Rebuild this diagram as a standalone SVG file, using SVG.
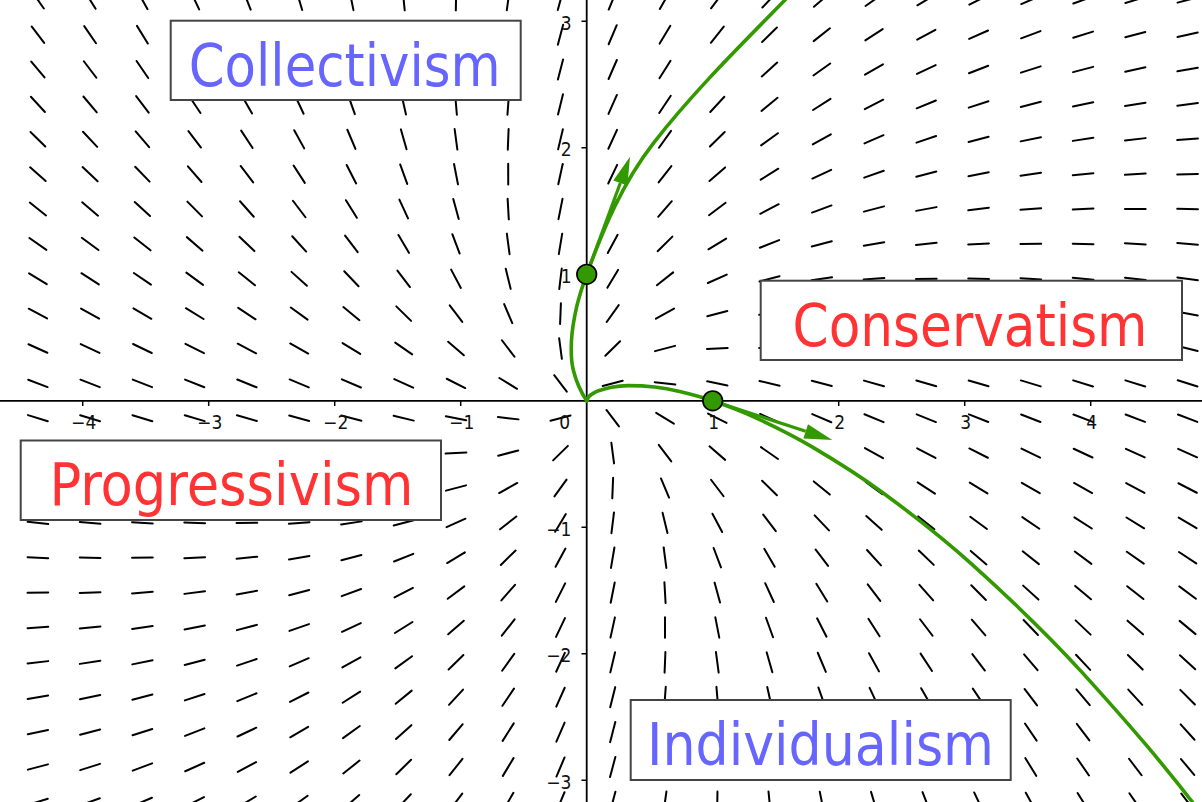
<svg xmlns="http://www.w3.org/2000/svg" width="1202" height="802" viewBox="0 0 1202 802">
<style>
.sf path{fill:none;stroke:none;marker-end:url(#seg)}
.ax{stroke:#000;stroke-width:1.8;fill:none}
.tk{stroke:#000;stroke-width:1.5}
.tl{font-family:"DejaVu Sans Condensed","DejaVu Sans",sans-serif;font-size:19px;fill:#111}
.tx{text-anchor:middle}
.ty{text-anchor:end}
.box rect{fill:#fff;stroke:#444;stroke-width:2}
.big{font-family:"DejaVu Sans Condensed","DejaVu Sans",sans-serif;font-size:58px;text-anchor:middle}
.blue{fill:#6666ff}
.red{fill:#ff3333}
.curve{fill:none;stroke:#339900;stroke-width:3.6;stroke-linecap:round;stroke-linejoin:round}
.shaft{stroke:#339900;stroke-width:3.2}
.head{fill:#339900}
.dot{fill:#339900;stroke:#000;stroke-width:1.7}
</style>
<defs>
<marker id="seg" markerUnits="userSpaceOnUse" orient="auto" overflow="visible" markerWidth="30" markerHeight="30" refX="0" refY="0">
<line x1="-9.8" y1="-3.37" x2="9.8" y2="3.37" stroke="#000" stroke-width="2" stroke-linecap="round"/>
</marker>
</defs>
<rect width="1202" height="802" fill="#fff"/>
<g id="slope-field" class="sf">
<path d="M586.7 400.8L37.9 0"/><path d="M586.7 400.8L90.1 0"/><path d="M586.7 400.8L142.4 0"/><path d="M586.7 400.8L194.7 0"/><path d="M586.7 400.8L246.9 0"/><path d="M586.7 400.8L299.2 0"/><path d="M586.7 400.8L351.4 0"/><path d="M586.7 400.8L403.7 0"/><path d="M586.7 400.8L456 0"/><path d="M586.7 400.8L508.2 0"/><path d="M586.7 400.8L560.5 0"/><path d="M586.7 400.8L612.7 0"/><path d="M586.7 400.8L665 0"/><path d="M586.7 400.8L717.3 0"/><path d="M586.7 400.8L769.5 0"/><path d="M586.7 400.8L821.8 0"/><path d="M586.7 400.8L874 0"/><path d="M586.7 400.8L926.3 0"/><path d="M586.7 400.8L978.6 0"/><path d="M586.7 400.8L1030.8 0"/><path d="M586.7 400.8L1083.1 0"/><path d="M586.7 400.8L1135.3 0"/><path d="M586.7 400.8L1187.6 0"/>
<path d="M586.7 400.8L37.9 34.7"/><path d="M586.7 400.8L90.1 34.7"/><path d="M586.7 400.8L142.4 34.7"/><path d="M586.7 400.8L194.7 34.7"/><path d="M586.7 400.8L246.9 34.7"/><path d="M586.7 400.8L299.2 34.7"/><path d="M586.7 400.8L351.4 34.7"/><path d="M586.7 400.8L403.7 34.7"/><path d="M586.7 400.8L456 34.7"/><path d="M586.7 400.8L508.2 34.7"/><path d="M586.7 400.8L560.5 34.7"/><path d="M586.7 400.8L612.7 34.7"/><path d="M586.7 400.8L665 34.7"/><path d="M586.7 400.8L717.3 34.7"/><path d="M586.7 400.8L769.5 34.7"/><path d="M586.7 400.8L821.8 34.7"/><path d="M586.7 400.8L874 34.7"/><path d="M586.7 400.8L926.3 34.7"/><path d="M586.7 400.8L978.6 34.7"/><path d="M586.7 400.8L1030.8 34.7"/><path d="M586.7 400.8L1083.1 34.7"/><path d="M586.7 400.8L1135.3 34.7"/><path d="M586.7 400.8L1187.6 34.7"/>
<path d="M586.7 400.8L37.9 69.5"/><path d="M586.7 400.8L90.1 69.5"/><path d="M586.7 400.8L142.4 69.5"/><path d="M586.7 400.8L194.7 69.5"/><path d="M586.7 400.8L246.9 69.5"/><path d="M586.7 400.8L299.2 69.5"/><path d="M586.7 400.8L351.4 69.5"/><path d="M586.7 400.8L403.7 69.5"/><path d="M586.7 400.8L456 69.5"/><path d="M586.7 400.8L508.2 69.5"/><path d="M586.7 400.8L560.5 69.5"/><path d="M586.7 400.8L612.7 69.5"/><path d="M586.7 400.8L665 69.5"/><path d="M586.7 400.8L717.3 69.5"/><path d="M586.7 400.8L769.5 69.5"/><path d="M586.7 400.8L821.8 69.5"/><path d="M586.7 400.8L874 69.5"/><path d="M586.7 400.8L926.3 69.5"/><path d="M586.7 400.8L978.6 69.5"/><path d="M586.7 400.8L1030.8 69.5"/><path d="M586.7 400.8L1083.1 69.5"/><path d="M586.7 400.8L1135.3 69.5"/><path d="M586.7 400.8L1187.6 69.5"/>
<path d="M586.7 400.8L37.9 104.4"/><path d="M586.7 400.8L90.1 104.4"/><path d="M586.7 400.8L142.4 104.4"/><path d="M586.7 400.8L194.7 104.4"/><path d="M586.7 400.8L246.9 104.4"/><path d="M586.7 400.8L299.2 104.4"/><path d="M586.7 400.8L351.4 104.4"/><path d="M586.7 400.8L403.7 104.4"/><path d="M586.7 400.8L456 104.4"/><path d="M586.7 400.8L508.2 104.4"/><path d="M586.7 400.8L560.5 104.4"/><path d="M586.7 400.8L612.7 104.4"/><path d="M586.7 400.8L665 104.4"/><path d="M586.7 400.8L717.3 104.4"/><path d="M586.7 400.8L769.5 104.4"/><path d="M586.7 400.8L821.8 104.4"/><path d="M586.7 400.8L874 104.4"/><path d="M586.7 400.8L926.3 104.4"/><path d="M586.7 400.8L978.6 104.4"/><path d="M586.7 400.8L1030.8 104.4"/><path d="M586.7 400.8L1083.1 104.4"/><path d="M586.7 400.8L1135.3 104.4"/><path d="M586.7 400.8L1187.6 104.4"/>
<path d="M586.7 400.8L37.9 139.3"/><path d="M586.7 400.8L90.1 139.3"/><path d="M586.7 400.8L142.4 139.3"/><path d="M586.7 400.8L194.7 139.3"/><path d="M586.7 400.8L246.9 139.3"/><path d="M586.7 400.8L299.2 139.3"/><path d="M586.7 400.8L351.4 139.3"/><path d="M586.7 400.8L403.7 139.3"/><path d="M586.7 400.8L456 139.3"/><path d="M586.7 400.8L508.2 139.3"/><path d="M586.7 400.8L560.5 139.3"/><path d="M586.7 400.8L612.7 139.3"/><path d="M586.7 400.8L665 139.3"/><path d="M586.7 400.8L717.3 139.3"/><path d="M586.7 400.8L769.5 139.3"/><path d="M586.7 400.8L821.8 139.3"/><path d="M586.7 400.8L874 139.3"/><path d="M586.7 400.8L926.3 139.3"/><path d="M586.7 400.8L978.6 139.3"/><path d="M586.7 400.8L1030.8 139.3"/><path d="M586.7 400.8L1083.1 139.3"/><path d="M586.7 400.8L1135.3 139.3"/><path d="M586.7 400.8L1187.6 139.3"/>
<path d="M586.7 400.8L37.9 174.2"/><path d="M586.7 400.8L90.1 174.2"/><path d="M586.7 400.8L142.4 174.2"/><path d="M586.7 400.8L194.7 174.2"/><path d="M586.7 400.8L246.9 174.2"/><path d="M586.7 400.8L299.2 174.2"/><path d="M586.7 400.8L351.4 174.2"/><path d="M586.7 400.8L403.7 174.2"/><path d="M586.7 400.8L456 174.2"/><path d="M586.7 400.8L508.2 174.2"/><path d="M586.7 400.8L560.5 174.2"/><path d="M586.7 400.8L612.7 174.2"/><path d="M586.7 400.8L665 174.2"/><path d="M586.7 400.8L717.3 174.2"/><path d="M586.7 400.8L769.5 174.2"/><path d="M586.7 400.8L821.8 174.2"/><path d="M586.7 400.8L874 174.2"/><path d="M586.7 400.8L926.3 174.2"/><path d="M586.7 400.8L978.6 174.2"/><path d="M586.7 400.8L1030.8 174.2"/><path d="M586.7 400.8L1083.1 174.2"/><path d="M586.7 400.8L1135.3 174.2"/><path d="M586.7 400.8L1187.6 174.2"/>
<path d="M586.7 400.8L37.9 209"/><path d="M586.7 400.8L90.1 209"/><path d="M586.7 400.8L142.4 209"/><path d="M586.7 400.8L194.7 209"/><path d="M586.7 400.8L246.9 209"/><path d="M586.7 400.8L299.2 209"/><path d="M586.7 400.8L351.4 209"/><path d="M586.7 400.8L403.7 209"/><path d="M586.7 400.8L456 209"/><path d="M586.7 400.8L508.2 209"/><path d="M586.7 400.8L560.5 209"/><path d="M586.7 400.8L612.7 209"/><path d="M586.7 400.8L665 209"/><path d="M586.7 400.8L717.3 209"/><path d="M586.7 400.8L769.5 209"/><path d="M586.7 400.8L821.8 209"/><path d="M586.7 400.8L874 209"/><path d="M586.7 400.8L926.3 209"/><path d="M586.7 400.8L978.6 209"/><path d="M586.7 400.8L1030.8 209"/><path d="M586.7 400.8L1083.1 209"/><path d="M586.7 400.8L1135.3 209"/><path d="M586.7 400.8L1187.6 209"/>
<path d="M586.7 400.8L37.9 243.9"/><path d="M586.7 400.8L90.1 243.9"/><path d="M586.7 400.8L142.4 243.9"/><path d="M586.7 400.8L194.7 243.9"/><path d="M586.7 400.8L246.9 243.9"/><path d="M586.7 400.8L299.2 243.9"/><path d="M586.7 400.8L351.4 243.9"/><path d="M586.7 400.8L403.7 243.9"/><path d="M586.7 400.8L456 243.9"/><path d="M586.7 400.8L508.2 243.9"/><path d="M586.7 400.8L560.5 243.9"/><path d="M586.7 400.8L612.7 243.9"/><path d="M586.7 400.8L665 243.9"/><path d="M586.7 400.8L717.3 243.9"/><path d="M586.7 400.8L769.5 243.9"/><path d="M586.7 400.8L821.8 243.9"/><path d="M586.7 400.8L874 243.9"/><path d="M586.7 400.8L926.3 243.9"/><path d="M586.7 400.8L978.6 243.9"/><path d="M586.7 400.8L1030.8 243.9"/><path d="M586.7 400.8L1083.1 243.9"/><path d="M586.7 400.8L1135.3 243.9"/><path d="M586.7 400.8L1187.6 243.9"/>
<path d="M586.7 400.8L37.9 278.8"/><path d="M586.7 400.8L90.1 278.8"/><path d="M586.7 400.8L142.4 278.8"/><path d="M586.7 400.8L194.7 278.8"/><path d="M586.7 400.8L246.9 278.8"/><path d="M586.7 400.8L299.2 278.8"/><path d="M586.7 400.8L351.4 278.8"/><path d="M586.7 400.8L403.7 278.8"/><path d="M586.7 400.8L456 278.8"/><path d="M586.7 400.8L508.2 278.8"/><path d="M586.7 400.8L560.5 278.8"/><path d="M586.7 400.8L612.7 278.8"/><path d="M586.7 400.8L665 278.8"/><path d="M586.7 400.8L717.3 278.8"/><path d="M586.7 400.8L769.5 278.8"/><path d="M586.7 400.8L821.8 278.8"/><path d="M586.7 400.8L874 278.8"/><path d="M586.7 400.8L926.3 278.8"/><path d="M586.7 400.8L978.6 278.8"/><path d="M586.7 400.8L1030.8 278.8"/><path d="M586.7 400.8L1083.1 278.8"/><path d="M586.7 400.8L1135.3 278.8"/><path d="M586.7 400.8L1187.6 278.8"/>
<path d="M586.7 400.8L37.9 313.6"/><path d="M586.7 400.8L90.1 313.6"/><path d="M586.7 400.8L142.4 313.6"/><path d="M586.7 400.8L194.7 313.6"/><path d="M586.7 400.8L246.9 313.6"/><path d="M586.7 400.8L299.2 313.6"/><path d="M586.7 400.8L351.4 313.6"/><path d="M586.7 400.8L403.7 313.6"/><path d="M586.7 400.8L456 313.6"/><path d="M586.7 400.8L508.2 313.6"/><path d="M586.7 400.8L560.5 313.6"/><path d="M586.7 400.8L612.7 313.6"/><path d="M586.7 400.8L665 313.6"/><path d="M586.7 400.8L717.3 313.6"/><path d="M586.7 400.8L769.5 313.6"/><path d="M586.7 400.8L821.8 313.6"/><path d="M586.7 400.8L874 313.6"/><path d="M586.7 400.8L926.3 313.6"/><path d="M586.7 400.8L978.6 313.6"/><path d="M586.7 400.8L1030.8 313.6"/><path d="M586.7 400.8L1083.1 313.6"/><path d="M586.7 400.8L1135.3 313.6"/><path d="M586.7 400.8L1187.6 313.6"/>
<path d="M586.7 400.8L37.9 348.5"/><path d="M586.7 400.8L90.1 348.5"/><path d="M586.7 400.8L142.4 348.5"/><path d="M586.7 400.8L194.7 348.5"/><path d="M586.7 400.8L246.9 348.5"/><path d="M586.7 400.8L299.2 348.5"/><path d="M586.7 400.8L351.4 348.5"/><path d="M586.7 400.8L403.7 348.5"/><path d="M586.7 400.8L456 348.5"/><path d="M586.7 400.8L508.2 348.5"/><path d="M586.7 400.8L560.5 348.5"/><path d="M586.7 400.8L612.7 348.5"/><path d="M586.7 400.8L665 348.5"/><path d="M586.7 400.8L717.3 348.5"/><path d="M586.7 400.8L769.5 348.5"/><path d="M586.7 400.8L821.8 348.5"/><path d="M586.7 400.8L874 348.5"/><path d="M586.7 400.8L926.3 348.5"/><path d="M586.7 400.8L978.6 348.5"/><path d="M586.7 400.8L1030.8 348.5"/><path d="M586.7 400.8L1083.1 348.5"/><path d="M586.7 400.8L1135.3 348.5"/><path d="M586.7 400.8L1187.6 348.5"/>
<path d="M586.7 400.8L37.9 383.4"/><path d="M586.7 400.8L90.1 383.4"/><path d="M586.7 400.8L142.4 383.4"/><path d="M586.7 400.8L194.7 383.4"/><path d="M586.7 400.8L246.9 383.4"/><path d="M586.7 400.8L299.2 383.4"/><path d="M586.7 400.8L351.4 383.4"/><path d="M586.7 400.8L403.7 383.4"/><path d="M586.7 400.8L456 383.4"/><path d="M586.7 400.8L508.2 383.4"/><path d="M586.7 400.8L560.5 383.4"/><path d="M586.7 400.8L612.7 383.4"/><path d="M586.7 400.8L665 383.4"/><path d="M586.7 400.8L717.3 383.4"/><path d="M586.7 400.8L769.5 383.4"/><path d="M586.7 400.8L821.8 383.4"/><path d="M586.7 400.8L874 383.4"/><path d="M586.7 400.8L926.3 383.4"/><path d="M586.7 400.8L978.6 383.4"/><path d="M586.7 400.8L1030.8 383.4"/><path d="M586.7 400.8L1083.1 383.4"/><path d="M586.7 400.8L1135.3 383.4"/><path d="M586.7 400.8L1187.6 383.4"/>
<path d="M586.7 400.8L37.9 418.2"/><path d="M586.7 400.8L90.1 418.2"/><path d="M586.7 400.8L142.4 418.2"/><path d="M586.7 400.8L194.7 418.2"/><path d="M586.7 400.8L246.9 418.2"/><path d="M586.7 400.8L299.2 418.2"/><path d="M586.7 400.8L351.4 418.2"/><path d="M586.7 400.8L403.7 418.2"/><path d="M586.7 400.8L456 418.2"/><path d="M586.7 400.8L508.2 418.2"/><path d="M586.7 400.8L560.5 418.2"/><path d="M586.7 400.8L612.7 418.2"/><path d="M586.7 400.8L665 418.2"/><path d="M586.7 400.8L717.3 418.2"/><path d="M586.7 400.8L769.5 418.2"/><path d="M586.7 400.8L821.8 418.2"/><path d="M586.7 400.8L874 418.2"/><path d="M586.7 400.8L926.3 418.2"/><path d="M586.7 400.8L978.6 418.2"/><path d="M586.7 400.8L1030.8 418.2"/><path d="M586.7 400.8L1083.1 418.2"/><path d="M586.7 400.8L1135.3 418.2"/><path d="M586.7 400.8L1187.6 418.2"/>
<path d="M586.7 400.8L37.9 453.1"/><path d="M586.7 400.8L90.1 453.1"/><path d="M586.7 400.8L142.4 453.1"/><path d="M586.7 400.8L194.7 453.1"/><path d="M586.7 400.8L246.9 453.1"/><path d="M586.7 400.8L299.2 453.1"/><path d="M586.7 400.8L351.4 453.1"/><path d="M586.7 400.8L403.7 453.1"/><path d="M586.7 400.8L456 453.1"/><path d="M586.7 400.8L508.2 453.1"/><path d="M586.7 400.8L560.5 453.1"/><path d="M586.7 400.8L612.7 453.1"/><path d="M586.7 400.8L665 453.1"/><path d="M586.7 400.8L717.3 453.1"/><path d="M586.7 400.8L769.5 453.1"/><path d="M586.7 400.8L821.8 453.1"/><path d="M586.7 400.8L874 453.1"/><path d="M586.7 400.8L926.3 453.1"/><path d="M586.7 400.8L978.6 453.1"/><path d="M586.7 400.8L1030.8 453.1"/><path d="M586.7 400.8L1083.1 453.1"/><path d="M586.7 400.8L1135.3 453.1"/><path d="M586.7 400.8L1187.6 453.1"/>
<path d="M586.7 400.8L37.9 488"/><path d="M586.7 400.8L90.1 488"/><path d="M586.7 400.8L142.4 488"/><path d="M586.7 400.8L194.7 488"/><path d="M586.7 400.8L246.9 488"/><path d="M586.7 400.8L299.2 488"/><path d="M586.7 400.8L351.4 488"/><path d="M586.7 400.8L403.7 488"/><path d="M586.7 400.8L456 488"/><path d="M586.7 400.8L508.2 488"/><path d="M586.7 400.8L560.5 488"/><path d="M586.7 400.8L612.7 488"/><path d="M586.7 400.8L665 488"/><path d="M586.7 400.8L717.3 488"/><path d="M586.7 400.8L769.5 488"/><path d="M586.7 400.8L821.8 488"/><path d="M586.7 400.8L874 488"/><path d="M586.7 400.8L926.3 488"/><path d="M586.7 400.8L978.6 488"/><path d="M586.7 400.8L1030.8 488"/><path d="M586.7 400.8L1083.1 488"/><path d="M586.7 400.8L1135.3 488"/><path d="M586.7 400.8L1187.6 488"/>
<path d="M586.7 400.8L37.9 522.9"/><path d="M586.7 400.8L90.1 522.9"/><path d="M586.7 400.8L142.4 522.9"/><path d="M586.7 400.8L194.7 522.9"/><path d="M586.7 400.8L246.9 522.9"/><path d="M586.7 400.8L299.2 522.9"/><path d="M586.7 400.8L351.4 522.9"/><path d="M586.7 400.8L403.7 522.9"/><path d="M586.7 400.8L456 522.9"/><path d="M586.7 400.8L508.2 522.9"/><path d="M586.7 400.8L560.5 522.9"/><path d="M586.7 400.8L612.7 522.9"/><path d="M586.7 400.8L665 522.9"/><path d="M586.7 400.8L717.3 522.9"/><path d="M586.7 400.8L769.5 522.9"/><path d="M586.7 400.8L821.8 522.9"/><path d="M586.7 400.8L874 522.9"/><path d="M586.7 400.8L926.3 522.9"/><path d="M586.7 400.8L978.6 522.9"/><path d="M586.7 400.8L1030.8 522.9"/><path d="M586.7 400.8L1083.1 522.9"/><path d="M586.7 400.8L1135.3 522.9"/><path d="M586.7 400.8L1187.6 522.9"/>
<path d="M586.7 400.8L37.9 557.7"/><path d="M586.7 400.8L90.1 557.7"/><path d="M586.7 400.8L142.4 557.7"/><path d="M586.7 400.8L194.7 557.7"/><path d="M586.7 400.8L246.9 557.7"/><path d="M586.7 400.8L299.2 557.7"/><path d="M586.7 400.8L351.4 557.7"/><path d="M586.7 400.8L403.7 557.7"/><path d="M586.7 400.8L456 557.7"/><path d="M586.7 400.8L508.2 557.7"/><path d="M586.7 400.8L560.5 557.7"/><path d="M586.7 400.8L612.7 557.7"/><path d="M586.7 400.8L665 557.7"/><path d="M586.7 400.8L717.3 557.7"/><path d="M586.7 400.8L769.5 557.7"/><path d="M586.7 400.8L821.8 557.7"/><path d="M586.7 400.8L874 557.7"/><path d="M586.7 400.8L926.3 557.7"/><path d="M586.7 400.8L978.6 557.7"/><path d="M586.7 400.8L1030.8 557.7"/><path d="M586.7 400.8L1083.1 557.7"/><path d="M586.7 400.8L1135.3 557.7"/><path d="M586.7 400.8L1187.6 557.7"/>
<path d="M586.7 400.8L37.9 592.6"/><path d="M586.7 400.8L90.1 592.6"/><path d="M586.7 400.8L142.4 592.6"/><path d="M586.7 400.8L194.7 592.6"/><path d="M586.7 400.8L246.9 592.6"/><path d="M586.7 400.8L299.2 592.6"/><path d="M586.7 400.8L351.4 592.6"/><path d="M586.7 400.8L403.7 592.6"/><path d="M586.7 400.8L456 592.6"/><path d="M586.7 400.8L508.2 592.6"/><path d="M586.7 400.8L560.5 592.6"/><path d="M586.7 400.8L612.7 592.6"/><path d="M586.7 400.8L665 592.6"/><path d="M586.7 400.8L717.3 592.6"/><path d="M586.7 400.8L769.5 592.6"/><path d="M586.7 400.8L821.8 592.6"/><path d="M586.7 400.8L874 592.6"/><path d="M586.7 400.8L926.3 592.6"/><path d="M586.7 400.8L978.6 592.6"/><path d="M586.7 400.8L1030.8 592.6"/><path d="M586.7 400.8L1083.1 592.6"/><path d="M586.7 400.8L1135.3 592.6"/><path d="M586.7 400.8L1187.6 592.6"/>
<path d="M586.7 400.8L37.9 627.5"/><path d="M586.7 400.8L90.1 627.5"/><path d="M586.7 400.8L142.4 627.5"/><path d="M586.7 400.8L194.7 627.5"/><path d="M586.7 400.8L246.9 627.5"/><path d="M586.7 400.8L299.2 627.5"/><path d="M586.7 400.8L351.4 627.5"/><path d="M586.7 400.8L403.7 627.5"/><path d="M586.7 400.8L456 627.5"/><path d="M586.7 400.8L508.2 627.5"/><path d="M586.7 400.8L560.5 627.5"/><path d="M586.7 400.8L612.7 627.5"/><path d="M586.7 400.8L665 627.5"/><path d="M586.7 400.8L717.3 627.5"/><path d="M586.7 400.8L769.5 627.5"/><path d="M586.7 400.8L821.8 627.5"/><path d="M586.7 400.8L874 627.5"/><path d="M586.7 400.8L926.3 627.5"/><path d="M586.7 400.8L978.6 627.5"/><path d="M586.7 400.8L1030.8 627.5"/><path d="M586.7 400.8L1083.1 627.5"/><path d="M586.7 400.8L1135.3 627.5"/><path d="M586.7 400.8L1187.6 627.5"/>
<path d="M586.7 400.8L37.9 662.3"/><path d="M586.7 400.8L90.1 662.3"/><path d="M586.7 400.8L142.4 662.3"/><path d="M586.7 400.8L194.7 662.3"/><path d="M586.7 400.8L246.9 662.3"/><path d="M586.7 400.8L299.2 662.3"/><path d="M586.7 400.8L351.4 662.3"/><path d="M586.7 400.8L403.7 662.3"/><path d="M586.7 400.8L456 662.3"/><path d="M586.7 400.8L508.2 662.3"/><path d="M586.7 400.8L560.5 662.3"/><path d="M586.7 400.8L612.7 662.3"/><path d="M586.7 400.8L665 662.3"/><path d="M586.7 400.8L717.3 662.3"/><path d="M586.7 400.8L769.5 662.3"/><path d="M586.7 400.8L821.8 662.3"/><path d="M586.7 400.8L874 662.3"/><path d="M586.7 400.8L926.3 662.3"/><path d="M586.7 400.8L978.6 662.3"/><path d="M586.7 400.8L1030.8 662.3"/><path d="M586.7 400.8L1083.1 662.3"/><path d="M586.7 400.8L1135.3 662.3"/><path d="M586.7 400.8L1187.6 662.3"/>
<path d="M586.7 400.8L37.9 697.2"/><path d="M586.7 400.8L90.1 697.2"/><path d="M586.7 400.8L142.4 697.2"/><path d="M586.7 400.8L194.7 697.2"/><path d="M586.7 400.8L246.9 697.2"/><path d="M586.7 400.8L299.2 697.2"/><path d="M586.7 400.8L351.4 697.2"/><path d="M586.7 400.8L403.7 697.2"/><path d="M586.7 400.8L456 697.2"/><path d="M586.7 400.8L508.2 697.2"/><path d="M586.7 400.8L560.5 697.2"/><path d="M586.7 400.8L612.7 697.2"/><path d="M586.7 400.8L665 697.2"/><path d="M586.7 400.8L717.3 697.2"/><path d="M586.7 400.8L769.5 697.2"/><path d="M586.7 400.8L821.8 697.2"/><path d="M586.7 400.8L874 697.2"/><path d="M586.7 400.8L926.3 697.2"/><path d="M586.7 400.8L978.6 697.2"/><path d="M586.7 400.8L1030.8 697.2"/><path d="M586.7 400.8L1083.1 697.2"/><path d="M586.7 400.8L1135.3 697.2"/><path d="M586.7 400.8L1187.6 697.2"/>
<path d="M586.7 400.8L37.9 732.1"/><path d="M586.7 400.8L90.1 732.1"/><path d="M586.7 400.8L142.4 732.1"/><path d="M586.7 400.8L194.7 732.1"/><path d="M586.7 400.8L246.9 732.1"/><path d="M586.7 400.8L299.2 732.1"/><path d="M586.7 400.8L351.4 732.1"/><path d="M586.7 400.8L403.7 732.1"/><path d="M586.7 400.8L456 732.1"/><path d="M586.7 400.8L508.2 732.1"/><path d="M586.7 400.8L560.5 732.1"/><path d="M586.7 400.8L612.7 732.1"/><path d="M586.7 400.8L665 732.1"/><path d="M586.7 400.8L717.3 732.1"/><path d="M586.7 400.8L769.5 732.1"/><path d="M586.7 400.8L821.8 732.1"/><path d="M586.7 400.8L874 732.1"/><path d="M586.7 400.8L926.3 732.1"/><path d="M586.7 400.8L978.6 732.1"/><path d="M586.7 400.8L1030.8 732.1"/><path d="M586.7 400.8L1083.1 732.1"/><path d="M586.7 400.8L1135.3 732.1"/><path d="M586.7 400.8L1187.6 732.1"/>
<path d="M586.7 400.8L37.9 767"/><path d="M586.7 400.8L90.1 767"/><path d="M586.7 400.8L142.4 767"/><path d="M586.7 400.8L194.7 767"/><path d="M586.7 400.8L246.9 767"/><path d="M586.7 400.8L299.2 767"/><path d="M586.7 400.8L351.4 767"/><path d="M586.7 400.8L403.7 767"/><path d="M586.7 400.8L456 767"/><path d="M586.7 400.8L508.2 767"/><path d="M586.7 400.8L560.5 767"/><path d="M586.7 400.8L612.7 767"/><path d="M586.7 400.8L665 767"/><path d="M586.7 400.8L717.3 767"/><path d="M586.7 400.8L769.5 767"/><path d="M586.7 400.8L821.8 767"/><path d="M586.7 400.8L874 767"/><path d="M586.7 400.8L926.3 767"/><path d="M586.7 400.8L978.6 767"/><path d="M586.7 400.8L1030.8 767"/><path d="M586.7 400.8L1083.1 767"/><path d="M586.7 400.8L1135.3 767"/><path d="M586.7 400.8L1187.6 767"/>
<path d="M586.7 400.8L37.9 801.8"/><path d="M586.7 400.8L90.1 801.8"/><path d="M586.7 400.8L142.4 801.8"/><path d="M586.7 400.8L194.7 801.8"/><path d="M586.7 400.8L246.9 801.8"/><path d="M586.7 400.8L299.2 801.8"/><path d="M586.7 400.8L351.4 801.8"/><path d="M586.7 400.8L403.7 801.8"/><path d="M586.7 400.8L456 801.8"/><path d="M586.7 400.8L508.2 801.8"/><path d="M586.7 400.8L560.5 801.8"/><path d="M586.7 400.8L612.7 801.8"/><path d="M586.7 400.8L665 801.8"/><path d="M586.7 400.8L717.3 801.8"/><path d="M586.7 400.8L769.5 801.8"/><path d="M586.7 400.8L821.8 801.8"/><path d="M586.7 400.8L874 801.8"/><path d="M586.7 400.8L926.3 801.8"/><path d="M586.7 400.8L978.6 801.8"/><path d="M586.7 400.8L1030.8 801.8"/><path d="M586.7 400.8L1083.1 801.8"/><path d="M586.7 400.8L1135.3 801.8"/><path d="M586.7 400.8L1187.6 801.8"/>
</g>
<g id="axes">
<line class="ax" x1="0" y1="400.8" x2="1202" y2="400.8"/>
<line class="ax" x1="586.7" y1="0" x2="586.7" y2="802"/>
<path class="tk" d="M82.7 400.8V406M208.7 400.8V406M334.7 400.8V406M460.7 400.8V406M712.7 400.8V406M838.7 400.8V406M964.7 400.8V406M1090.7 400.8V406M581.5 21.3H586.7M581.5 147.8H586.7M581.5 274.3H586.7M581.5 527.3H586.7M581.5 653.8H586.7M581.5 780.3H586.7"/>
<g class="tl tx">
<text x="83.7" y="429">−4</text>
<text x="209.7" y="429">−3</text>
<text x="335.7" y="429">−2</text>
<text x="461.7" y="429">−1</text>
<text x="713.7" y="429">1</text>
<text x="839.7" y="429">2</text>
<text x="965.7" y="429">3</text>
<text x="1091.7" y="429">4</text>
</g>
<g class="tl ty">
<text x="570" y="429">0</text>
<text x="571.5" y="29.5">3</text>
<text x="571.5" y="156">2</text>
<text x="571.5" y="282.5">1</text>
<text x="571.5" y="535.5">−1</text>
<text x="571.5" y="662">−2</text>
<text x="571.5" y="788.5">−3</text>
</g>
</g>
<g id="curves">
<path id="curve-a" class="curve" d="M586.7 400.8C580 390.8 575.8 380.1 573.3 370C570.8 359.9 570.9 350.6 571.5 340C572.1 329.5 574.2 317.7 576.7 306.7C579.2 295.8 582.3 286.5 586.7 274.3C604 227.4 622.6 182.8 653.3 143.3C693.2 92 739.5 46.4 785 0L800 -15.3"/>
<path id="curve-b" class="curve" d="M586.7 400.8C587.5 398 589 395.6 592 394.1C593.8 393 595.3 391.9 598.5 390.8C601.7 389.7 606.5 388.2 611.4 387.3C616.3 386.4 620.9 385.7 628.1 385.6C635.3 385.6 645.9 386 654.5 387C663.1 388 669.9 389.2 679.6 391.5C689.3 393.8 700 396.4 712.7 400.8C725.4 405.2 739.4 410.2 755.9 417.8C772.4 425.4 790.6 434.1 811.7 446.6C832.9 459.1 856.1 473.1 882.8 492.7C909.5 512.3 938.8 534.4 972 564.4C1005.3 594.4 1041.7 627.9 1082.3 672.6C1122.9 717.4 1167.3 767.3 1215.8 832.9"/>
</g>
<g id="vector-a">
<line class="shaft" x1="586.7" y1="274.3" x2="620.3" y2="183"/>
<polygon class="head" points="630,156.7 627.4,185.6 613.3,180.4"/>
</g>
<g id="vector-b">
<line class="shaft" x1="712.7" y1="400.8" x2="805.7" y2="431.3"/>
<polygon class="head" points="832.3,440 803.4,438.4 808,424.2"/>
</g>
<g id="point-a"><circle class="dot" cx="586.7" cy="274.3" r="9.8"/></g>
<g id="point-b"><circle class="dot" cx="712.7" cy="400.8" r="9.8"/></g>
<g id="collectivism" class="box">
<rect x="170.7" y="20.7" width="350" height="79.3"/>
<text class="big blue" x="344.7" y="85.5" textLength="312" lengthAdjust="spacingAndGlyphs">Collectivism</text>
</g>
<g id="conservatism" class="box">
<rect x="760.7" y="280.7" width="421.3" height="79.3"/>
<text class="big red" x="970" y="345.5" textLength="355" lengthAdjust="spacingAndGlyphs">Conservatism</text>
</g>
<g id="progressivism" class="box">
<rect x="20.7" y="440.5" width="420.3" height="79.5"/>
<text class="big red" x="231.4" y="505.3" textLength="364" lengthAdjust="spacingAndGlyphs">Progressivism</text>
</g>
<g id="individualism" class="box">
<rect x="630.7" y="700" width="380" height="80"/>
<text class="big blue" x="820.5" y="764.8" textLength="347" lengthAdjust="spacingAndGlyphs">Individualism</text>
</g>
</svg>
